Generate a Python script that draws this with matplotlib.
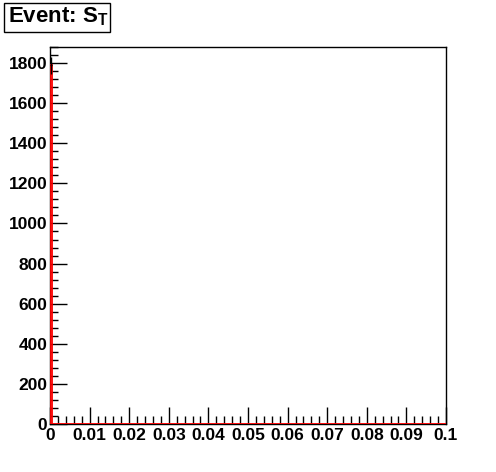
import numpy as np
import matplotlib
matplotlib.use("Agg")
import matplotlib.pyplot as plt
from matplotlib.patches import Rectangle
from matplotlib.ticker import MultipleLocator

# ── Data ─────────────────────────────────────────────────────────────────────
bin_edges = np.linspace(0.0, 0.1, 201)          # 200 bins, width 0.0005
counts = np.zeros(200)
counts[0] = 1790                                 # everything sits in the first bin
x_ticks = [0, 0.01, 0.02, 0.03, 0.04, 0.05, 0.06, 0.07, 0.08, 0.09, 0.1]
x_labels = ["0", "0.01", "0.02", "0.03", "0.04", "0.05", "0.06", "0.07", "0.08", "0.09", "0.1"]
y_ticks = [0, 200, 400, 600, 800, 1000, 1200, 1400, 1600, 1800]

# ── Style ────────────────────────────────────────────────────────────────────
plt.rcParams["font.family"] = ["Liberation Sans", "DejaVu Sans"]
plt.rcParams["font.weight"] = "bold"
plt.rcParams["mathtext.fontset"] = "custom"
plt.rcParams["mathtext.rm"] = "Liberation Sans:bold"
plt.rcParams["mathtext.it"] = "Liberation Sans:bold"
plt.rcParams["mathtext.bf"] = "Liberation Sans:bold"

W, H = 496, 472
fig = plt.figure(figsize=(W / 100, H / 100), dpi=100, facecolor="white")
ax = fig.add_axes([50 / W, (H - 424) / H, 396 / W, 377 / H])

# histogram outline (red) + error bars (black)
ax.stairs(counts, bin_edges, color="red", linewidth=1.3, zorder=3)
centers = 0.5 * (bin_edges[:-1] + bin_edges[1:])
nz = counts > 0
ax.errorbar(centers[nz], counts[nz], yerr=np.sqrt(counts[nz]),
            xerr=0.00025, fmt="none", ecolor="black", elinewidth=1, zorder=4)

ax.set_xlim(0, 0.1)
ax.set_ylim(0, 1880)

ax.set_xticks(x_ticks)
ax.set_xticklabels(x_labels)
ax.set_yticks(y_ticks)
ax.xaxis.set_minor_locator(MultipleLocator(0.002))
ax.yaxis.set_minor_locator(MultipleLocator(40))

ax.tick_params(which="both", direction="in", top=False, right=False,
               labelsize=12.5, colors="black")
ax.tick_params(which="major", length=12, width=1)
ax.tick_params(which="minor", length=6, width=1)
ax.tick_params(axis="x", pad=3)
ax.tick_params(axis="y", pad=2)
for lab in ax.get_xticklabels() + ax.get_yticklabels():
    lab.set_fontweight("bold")
for spine in ax.spines.values():
    spine.set_edgecolor("black")
    spine.set_linewidth(1)

# title box (ROOT-style pave)
fig.patches.append(Rectangle((4 / W, 1 - 32 / H), 106 / W, 29 / H,
                             transform=fig.transFigure, facecolor="white",
                             edgecolor="black", linewidth=1))
fig.text(8 / W, 1 - 17 / H, "Event: $S_T$", fontsize=16, fontweight="bold",
         va="center", ha="left")

fig.savefig("out.png", dpi=100, facecolor="white")
